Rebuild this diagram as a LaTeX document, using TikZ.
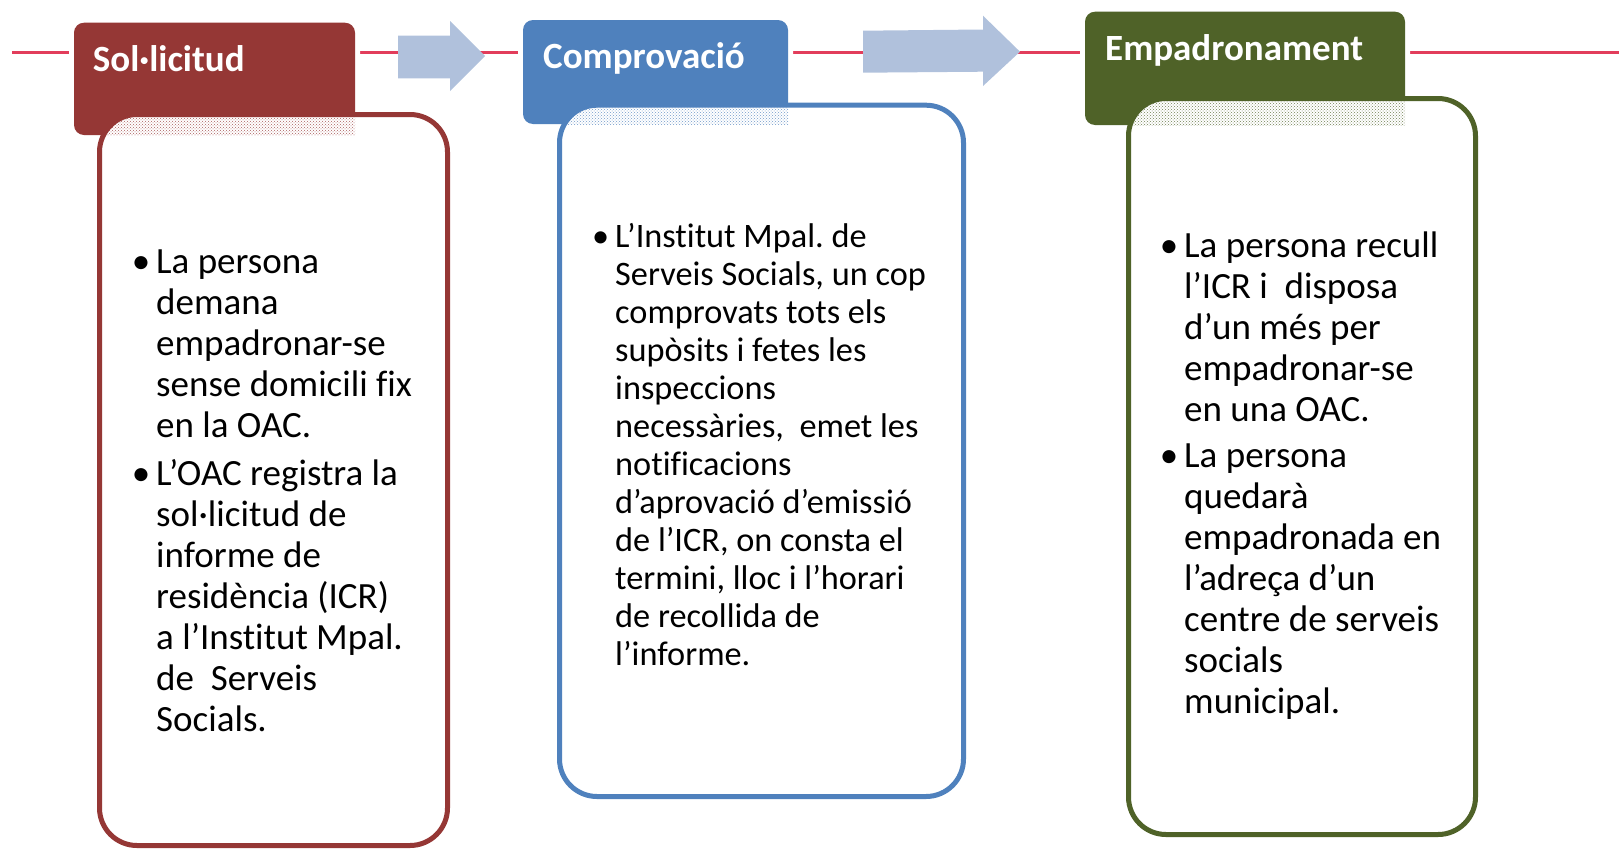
\documentclass[tikz,border=0pt]{standalone}
\usepackage{fontspec}
\setmainfont[Ligatures=NoCommon]{Carlito}
\usetikzlibrary{patterns}
\definecolor{redh}{HTML}{953735}
\definecolor{blueh}{HTML}{4F81BD}
\definecolor{greenh}{HTML}{4F6228}
\definecolor{linec}{HTML}{E23D5B}
\definecolor{arrowc}{HTML}{B0C1DC}
\frenchspacing
\lineskiplimit=-100pt
\newcommand\bul{\llap{•\hspace{6pt}}}
% #1 colour, #2-#5 header corners, #6-#9 box corners (on stroke centre)
\newcommand\stagebox[9]{%
  \path[fill=#1, rounded corners=10pt, preaction={draw=white, line width=10pt}] (#2,#3) rectangle (#4,#5);
  \fill[white, rounded corners=37.5pt] (#6,#7) rectangle (#8,#9);
  \begin{scope}
    \clip[rounded corners=37.5pt] (#6,#7) rectangle (#8,#9);
    \fill[pattern=crosshatch dots, pattern color=#1!80] (#2,#3) rectangle (#4,#5);
  \end{scope}
  \draw[#1, line width=5pt, rounded corners=37.5pt] (#6,#7) rectangle (#8,#9);
}
\tikzset{
  htxt/.style={anchor=base west, inner sep=0pt, text=white, font=\fontsize{37}{44}\selectfont\bfseries},
  btxtA/.style={anchor=base west, inner sep=0pt, font=\fontsize{37}{41}\selectfont},
  btxtB/.style={anchor=base west, inner sep=0pt, font=\fontsize{34.3}{38}\selectfont},
  btxtC/.style={anchor=base west, inner sep=0pt, font=\fontsize{37}{41}\selectfont},
  flowarrow/.style={fill=arrowc}
}
\begin{document}
\begin{tikzpicture}[x=1pt, y=-1pt]
\useasboundingbox (0,0) rectangle (1619,849);
% timeline
\coordinate (lstart) at (12,52.5);
\coordinate (lend) at (1619,52.5);
\draw[linec, line width=3pt] (lstart) -- (lend);
% arrows
\fill[flowarrow] (398,35.7) -- (450,35.7) -- (450,21) -- (485,56) -- (450,91) -- (450,78.3) -- (398,78.3) -- cycle;
\fill[flowarrow] (863,30.7) -- (983,29.5) -- (983,15.7) -- (1020,51.7) -- (983,86) -- (983,71.7) -- (863,72.7) -- cycle;
% stages
\stagebox{redh}{74}{22.7}{355}{135}{99.5}{114.5}{447.5}{845.5}
\stagebox{blueh}{523}{20}{788}{124}{559.5}{105.2}{963.5}{796.5}
\stagebox{greenh}{1085}{11.7}{1405}{125}{1128.5}{98.5}{1475.5}{834.5}
% headers
\node[htxt] (h1) at (92.7,71.7) {Sol·licitud};
\node[htxt] (h2) at (543,68) {Comprovació};
\node[htxt] (h3) at (1105,60.7) {Empadronament};
% box 1
\node[btxtA] (b1a) at (156,273) {\vtop{\hbox{\bul La persona}\hbox{demana}\hbox{empadronar-se}\hbox{sense domicili fix}\hbox{en la OAC.}}};
\node[btxtA] (b1b) at (156,485) {\vtop{\hbox{\bul L’OAC registra la}\hbox{sol·licitud de}\hbox{informe de}\hbox{residència (ICR)}\hbox{a l’Institut Mpal.}\hbox{de~~Serveis}\hbox{Socials.}}};
% box 2
\node[btxtB] (b2a) at (615,247.5) {\vtop{\hbox{\bul L’Institut Mpal. de}\hbox{Serveis Socials, un cop}\hbox{comprovats tots els}\hbox{supòsits i fetes les}\hbox{inspeccions}\hbox{necessàries,~~emet les}\hbox{notificacions}\hbox{d’aprovació d’emissió}\hbox{de l’ICR, on consta el}\hbox{termini, lloc i l’horari}\hbox{de recollida de}\hbox{l’informe.}}};
% box 3
\node[btxtC] (b3a) at (1184,257) {\vtop{\hbox{\bul La persona recull}\hbox{l’ICR i~~disposa}\hbox{d’un més per}\hbox{empadronar-se}\hbox{en una OAC.}}};
\node[btxtC] (b3b) at (1184,467) {\vtop{\hbox{\bul La persona}\hbox{quedarà}\hbox{empadronada en}\hbox{l’adreça d’un}\hbox{centre de serveis}\hbox{socials}\hbox{municipal.}}};
\end{tikzpicture}
\end{document}
